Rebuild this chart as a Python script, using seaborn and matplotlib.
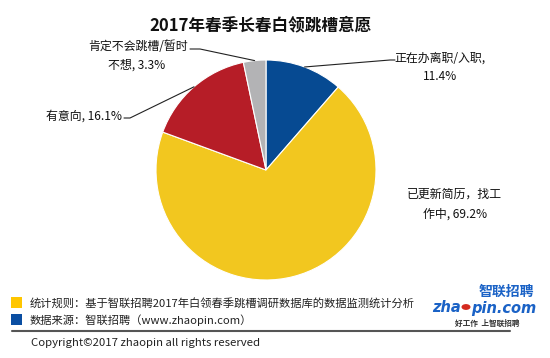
import matplotlib
matplotlib.use("Agg")
import matplotlib.pyplot as plt
from matplotlib.patches import Rectangle, Circle
from matplotlib.lines import Line2D
import seaborn as sns
import numpy as np

# ---- data ----
title = "2017年春季长春白领跳槽意愿"
categories = ["正在办离职/入职", "已更新简历，找工作中", "有意向", "肯定不会跳槽/暂时不想"]
values = [11.4, 69.2, 16.1, 3.3]
colors = ["#064A92", "#F2C71F", "#B61D27", "#B3B3B5"]
footer_lines = ["统计规则：基于智联招聘2017年白领春季跳槽调研数据库的数据监测统计分析",
                "数据来源：智联招聘（www.zhaopin.com）"]
copyright_text = "Copyright©2017 zhaopin all rights reserved"

sns.set_theme(style="white")
plt.rcParams['font.family'] = ['Noto Sans CJK SC', 'DejaVu Sans']

W, H = 550, 358
fig = plt.figure(figsize=(W / 100, H / 100), dpi=100)
fig.patch.set_facecolor("white")

def fx(x):
    return x / W

def fy(y):
    return 1 - y / H

# pie axes: center (266,170), radius 110 px
cx, cy, R = 266, 170, 110
ax = fig.add_axes([fx(cx - R), fy(cy + R), 2 * R / W, 2 * R / H])
wedges, _ = ax.pie(values, colors=colors, startangle=90, counterclock=False,
                   radius=1, wedgeprops=dict(edgecolor="white", linewidth=0.8))
ax.set_xlim(-1, 1)
ax.set_ylim(-1, 1)
ax.set_axis_off()

# mid-angle edge points for leader lines
cum = np.cumsum([0] + values) / sum(values)
def edge_px(i):
    frac = (cum[i] + cum[i + 1]) / 2
    th = np.deg2rad(90 - 360 * frac)
    return cx + R * np.cos(th), cy - R * np.sin(th)

def line(pts):
    xs = [fx(p[0]) for p in pts]
    ys = [fy(p[1]) for p in pts]
    fig.add_artist(Line2D(xs, ys, transform=fig.transFigure, color="#222222", lw=0.8))

lab_fs = 8.6
# title
fig.text(fx(261), fy(25), title, ha="center", va="center", fontsize=12, fontweight="bold", color="#111111")

# blue label
bx, by = edge_px(0)
line([(bx, by), (390, 60), (395, 60)])
fig.text(fx(440), fy(58), "正在办离职/入职,", ha="center", va="center", fontsize=lab_fs, color="#111111")
fig.text(fx(440), fy(77), f"{values[0]}%", ha="center", va="center", fontsize=lab_fs, color="#111111")

# yellow label
fig.text(fx(454), fy(194), "已更新简历，找工", ha="center", va="center", fontsize=lab_fs, color="#111111")
fig.text(fx(455), fy(214), f"作中, {values[1]}%", ha="center", va="center", fontsize=lab_fs, color="#111111")

# red label
rx, ry = edge_px(2)
line([(124, 118), (130, 118), (rx, ry)])
fig.text(fx(122), fy(116), f"有意向, {values[2]}%", ha="right", va="center", fontsize=lab_fs, color="#111111")

# gray label
gx, gy = edge_px(3)
line([(190, 49), (200, 49), (gx, gy)])
fig.text(fx(188), fy(46), "肯定不会跳槽/暂时", ha="right", va="center", fontsize=lab_fs, color="#111111")
fig.text(fx(137), fy(65), f"不想, {values[3]}%", ha="center", va="center", fontsize=lab_fs, color="#111111")

# footer
fig.add_artist(Rectangle((fx(11), fy(308)), 11 / W, 11 / H, transform=fig.transFigure,
                         facecolor="#FFC600", edgecolor="none"))
fig.add_artist(Rectangle((fx(11), fy(325)), 11 / W, 11 / H, transform=fig.transFigure,
                         facecolor="#0A4EA2", edgecolor="none"))
fig.text(fx(30), fy(303), footer_lines[0], ha="left", va="center", fontsize=8.1, color="#222222")
fig.text(fx(30), fy(320), footer_lines[1], ha="left", va="center", fontsize=8.1, color="#222222")
fig.add_artist(Line2D([fx(12), fx(510)], [fy(331), fy(331)], transform=fig.transFigure,
                      color="#555555", lw=1.5))
fig.text(fx(31), fy(343), copyright_text, ha="left", va="center", fontsize=8.2, color="#222222")

# logo
fig.text(fx(506), fy(292), "智联招聘", ha="center", va="center", fontsize=10, fontweight="bold",
         style="italic", color="#1A62C6")
fig.text(fx(461), fy(308), "zha", ha="right", va="center", fontsize=10.5, fontweight="bold",
         style="italic", color="#1A62C6", family="DejaVu Sans")
fig.add_artist(Circle((fx(466), fy(307)), 4.5 / W, transform=fig.transFigure, facecolor="#D42A1E",
                      edgecolor="none"))
fig.text(fx(471), fy(308), "pin.com", ha="left", va="center", fontsize=10.5, fontweight="bold",
         style="italic", color="#1A62C6", family="DejaVu Sans")
fig.text(fx(487), fy(323), "好工作  上智联招聘", ha="center", va="center", fontsize=5.5,
         fontweight="bold", color="#333333")

fig.savefig("out.png", dpi=100, facecolor="white")
